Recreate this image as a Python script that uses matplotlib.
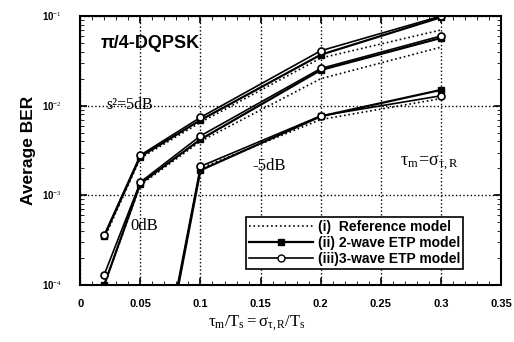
import matplotlib
matplotlib.use('Agg')
import matplotlib.pyplot as plt
from matplotlib.ticker import MultipleLocator, LogLocator, NullFormatter
from matplotlib.lines import Line2D

plt.rcParams['font.family'] = ['Liberation Sans', 'DejaVu Sans']
plt.rcParams['mathtext.fontset'] = 'custom'
plt.rcParams['mathtext.rm'] = 'Liberation Serif'
plt.rcParams['mathtext.it'] = 'Liberation Serif'

# tau_m / Ts
x = [0.02, 0.05, 0.1, 0.2, 0.3]

# s^2 = 5 dB
ref_5 = [3.3e-4, 2.6e-3, 6.5e-3, 3.4e-2, 0.070]
two_5 = [3.5e-4, 2.7e-3, 6.9e-3, 3.7e-2, 0.097]
three_5 = [3.6e-4, 2.8e-3, 7.4e-3, 4.1e-2, 0.100]

# s^2 = 0 dB
ref_0 = [1.0e-4, 1.3e-3, 4.0e-3, 2.0e-2, 0.045]
two_0 = [1.0e-4, 1.35e-3, 4.2e-3, 2.5e-2, 0.057]
three_0 = [1.3e-4, 1.4e-3, 4.6e-3, 2.6e-2, 0.060]

# s^2 = -5 dB
ref_m5 = [1e-8, 6e-7, 2.0e-3, 7.0e-3, 1.2e-2]
two_m5 = [1e-8, 6e-7, 1.9e-3, 7.6e-3, 1.5e-2]
three_m5 = [1e-8, 7e-7, 2.1e-3, 7.7e-3, 1.29e-2]

fig = plt.figure(figsize=(5.14, 3.42), dpi=100)
ax = fig.add_axes([0.156, 0.167, 0.819, 0.786])

for ref, two, three in [(ref_5, two_5, three_5), (ref_0, two_0, three_0), (ref_m5, two_m5, three_m5)]:
    ax.plot(x, ref, 'k:', lw=1.2)
    ax.plot(x, two, 'k-', lw=1.6, marker='s', ms=5, mfc='k')
    ax.plot(x, three, 'k-', lw=1.2, marker='o', ms=5, mfc='white', mew=1.2)

ax.set_yscale('log')
ax.set_xlim(0, 0.35)
ax.set_ylim(1e-4, 1e-1)
ax.xaxis.set_minor_locator(MultipleLocator(0.01))
ax.yaxis.set_minor_locator(LogLocator(base=10, subs=range(2, 10)))
ax.yaxis.set_minor_formatter(NullFormatter())
ax.set_xticks([0, 0.05, 0.1, 0.15, 0.2, 0.25, 0.3, 0.35])
ax.set_xticklabels(['0', '0.05', '0.1', '0.15', '0.2', '0.25', '0.3', '0.35'],
                   fontweight='bold', fontsize=8)
ax.set_yticks([1e-4, 1e-3, 1e-2, 1e-1])
ax.set_yticklabels(['10$^{-4}$', '10$^{-3}$', '10$^{-2}$', '10$^{-1}$'], fontsize=7, fontweight='bold')
ax.tick_params(which='both', direction='in', top=True, right=True)
ax.tick_params(axis='x', pad=10)
ax.tick_params(axis='y', pad=13)
ax.tick_params(which='major', length=5, width=1.2)
ax.tick_params(which='minor', length=3)
ax.grid(True, which='major', ls=':', color='k', lw=1.0)
for s in ax.spines.values():
    s.set_linewidth(1.5)

ax.set_ylabel('Average BER', fontweight='bold', fontsize=12.5)
ax.yaxis.set_label_coords(-0.105, 0.5)
ax.set_xlabel(r'$\tau_m/T_s = \sigma_{\tau,R}/T_s$', fontsize=12)
ax.xaxis.set_label_coords(0.42, -0.105)

ax.text(0.017, 0.044, 'π/4-DQPSK', fontsize=13, fontweight='bold')
ax.text(0.022, 0.0093, 's²=5dB', fontsize=11.5, family='Liberation Serif')
ax.text(0.042, 0.00041, '0dB', fontsize=12, family='Liberation Serif')
ax.text(0.143, 0.0019, '-5dB', fontsize=12, family='Liberation Serif')
ax.text(0.266, 0.0021, r'$\mathrm{\tau_m\!=\!\sigma_{\tau,R}}$', fontsize=13)

handles = [Line2D([], [], color='k', ls=':', lw=1.2),
           Line2D([], [], color='k', lw=1.6, marker='s', ms=5, mfc='k'),
           Line2D([], [], color='k', lw=1.2, marker='o', ms=5, mfc='white')]
leg = ax.legend(handles, ['(i)  Reference model', '(ii) 2-wave ETP model', '(iii)3-wave ETP model'],
                loc='lower right', bbox_to_anchor=(0.91, 0.06), fancybox=False,
                edgecolor='k', framealpha=1, prop={'weight': 'bold', 'size': 10},
                handlelength=4.6, borderpad=0.2, labelspacing=0.15, handletextpad=0.4,
                borderaxespad=0)
leg.get_frame().set_linewidth(1.2)

fig.savefig('out.png', dpi=100)
